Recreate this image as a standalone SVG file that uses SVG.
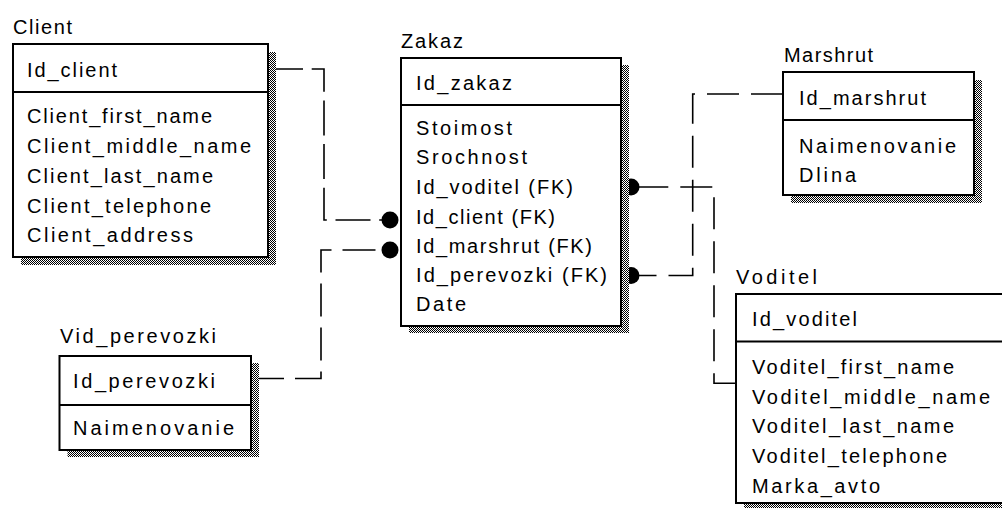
<svg xmlns="http://www.w3.org/2000/svg" width="1002" height="508" viewBox="0 0 1002 508">
<defs>
<pattern id="dither" width="2" height="2" patternUnits="userSpaceOnUse">
<rect width="2" height="2" fill="#fff"/>
<rect width="1" height="1" fill="#000"/>
<rect x="1" y="1" width="1" height="1" fill="#000"/>
</pattern>
<marker id="dot" markerUnits="userSpaceOnUse" viewBox="-9 -9 18 18" refX="0" refY="0" markerWidth="18" markerHeight="18" orient="auto">
<circle r="8.5" fill="#000"/>
</marker>
</defs>
<style>
text{font-family:"Liberation Sans",Arial,sans-serif;font-size:20px;fill:#000}
.box{fill:#fff;stroke:#000;stroke-width:2}
.sh{fill:url(#dither);stroke:none}
.div{stroke:#000;stroke-width:2}
.rel{fill:none;stroke:#000;stroke-width:1.6}
</style>
<rect width="1002" height="508" fill="#fff"/>

<g id="connectors">
<path class="rel" d="M268,69 H324 V220 H390" stroke-dasharray="35 8.7" marker-end="url(#dot)"/>
<path class="rel" d="M251,378.5 H321 V250 H390" stroke-dasharray="33 11" marker-end="url(#dot)"/>
<path class="rel" d="M783,94 H692.7 V275.5 H631" stroke-dasharray="32 12" marker-end="url(#dot)"/>
<path class="rel" d="M736,383.3 H714 V187 H631" stroke-dasharray="32 12" marker-end="url(#dot)"/>
</g>

<g id="Client">
<text x="13" y="34" textLength="59">Client</text>
<rect class="sh" x="21" y="52" width="255" height="213"/>
<rect class="box" x="13" y="44" width="255" height="213"/>
<line class="div" x1="13" y1="92" x2="268" y2="92"/>
<text x="27" y="77" textLength="90">Id_client</text>
<text x="27" y="123" textLength="185">Client_first_name</text>
<text x="27" y="153" textLength="224">Client_middle_name</text>
<text x="27" y="183" textLength="186">Client_last_name</text>
<text x="27" y="213" textLength="184">Client_telephone</text>
<text x="27" y="242" textLength="166">Client_address</text>
</g>

<g id="Zakaz">
<text x="401" y="48" textLength="62">Zakaz</text>
<rect class="sh" x="409" y="65" width="220" height="268"/>
<rect class="box" x="401" y="58" width="220" height="268"/>
<line class="div" x1="401" y1="105" x2="621" y2="105"/>
<text x="416" y="90" textLength="96">Id_zakaz</text>
<text x="416" y="135" textLength="96">Stoimost</text>
<text x="416" y="164" textLength="111">Srochnost</text>
<text x="416" y="194" textLength="157">Id_voditel (FK)</text>
<text x="416" y="224" textLength="139">Id_client (FK)</text>
<text x="416" y="253" textLength="176">Id_marshrut (FK)</text>
<text x="416" y="282" textLength="191">Id_perevozki (FK)</text>
<text x="416" y="311" textLength="50">Date</text>
</g>

<g id="Marshrut">
<text x="784" y="62" textLength="89">Marshrut</text>
<rect class="sh" x="791" y="80" width="191" height="123"/>
<rect class="box" x="783" y="72" width="191" height="123"/>
<line class="div" x1="783" y1="120" x2="974" y2="120"/>
<text x="799" y="105" textLength="127">Id_marshrut</text>
<text x="799" y="153" textLength="157">Naimenovanie</text>
<text x="799" y="182" textLength="57">Dlina</text>
</g>

<g id="Vid_perevozki">
<text x="60" y="343" textLength="156">Vid_perevozki</text>
<rect class="sh" x="67.5" y="363" width="191.5" height="94"/>
<rect class="box" x="59.5" y="356" width="191.5" height="94"/>
<line class="div" x1="59.5" y1="405" x2="251" y2="405"/>
<text x="73" y="388" textLength="142">Id_perevozki</text>
<text x="73" y="435" textLength="161">Naimenovanie</text>
</g>

<g id="Voditel">
<text x="736" y="284" textLength="81">Voditel</text>
<rect class="sh" x="744" y="302" width="300" height="209"/>
<rect class="box" x="736" y="294" width="300" height="209"/>
<line class="div" x1="736" y1="341.5" x2="1036" y2="341.5"/>
<text x="752" y="326" textLength="105">Id_voditel</text>
<text x="752" y="374" textLength="202">Voditel_first_name</text>
<text x="752" y="404" textLength="238">Voditel_middle_name</text>
<text x="752" y="433" textLength="202">Voditel_last_name</text>
<text x="752" y="463" textLength="195">Voditel_telephone</text>
<text x="752" y="493" textLength="128">Marka_avto</text>
</g>
</svg>
